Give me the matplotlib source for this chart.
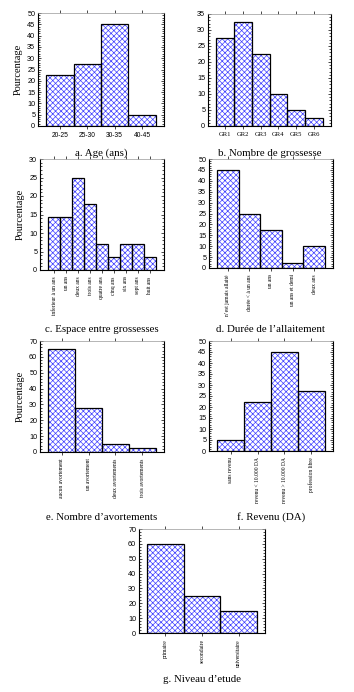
import numpy as np
import matplotlib.pyplot as plt
from matplotlib.ticker import MultipleLocator

# donnees
age_cat = ["20-25", "25-30", "30-35", "40-45"]
age_val = [22.5, 27.5, 45, 5]

gros_cat = ["GR1", "GR2", "GR3", "GR4", "GR5", "GR6"]
gros_val = [27.5, 32.5, 22.5, 10, 5, 2.5]

esp_cat = ["inferieur à un ans", "un ans", "deux ans", "trois ans", "quatre ans",
           "cinq ans", "six ans", "sept ans", "huit ans"]
esp_val = [14.3, 14.3, 25, 17.9, 7.1, 3.6, 7.1, 7.1, 3.6]

allait_cat = ["n’est jamais allaité", "durée < à un ans", "un ans",
              "un ans et demi", "deux ans"]
allait_val = [45, 25, 17.5, 2.5, 10]

avort_cat = ["aucun avortement", "un avortement", "deux avortements", "trois avortements"]
avort_val = [65, 27.5, 5, 2.5]

rev_cat = ["sans revenu", "revenu < 10.000 DA", "revenu > 10.000 DA", "profession libre"]
rev_val = [5, 22.5, 45, 27.5]

etude_cat = ["primaire", "secondaire", "universitaire"]
etude_val = [60, 25, 15]

W, H = 354, 692
fig = plt.figure(figsize=(W / 100, H / 100), dpi=100)
plt.rcParams['hatch.linewidth'] = 0.5

serif = "Liberation Serif"
sans = "Liberation Sans"


def panneau(box, cats, vals, ymax, ystep, titre, ty, rot, ylabel=False):
    x0, y0, x1, y1 = box
    ax = fig.add_axes([x0 / W, 1 - y1 / H, (x1 - x0) / W, (y1 - y0) / H])
    x = np.arange(len(cats))
    ax.bar(x, vals, width=1.0, color="white", edgecolor="#4040ff",
           hatch="xxxxxx", linewidth=0)
    ax.bar(x, vals, width=1.0, fill=False, edgecolor="black", linewidth=0.9)
    ax.set_xlim(-0.5 - 0.075 * len(cats), len(cats) - 0.5 + 0.075 * len(cats))
    ax.set_ylim(0, ymax)
    ax.yaxis.set_major_locator(MultipleLocator(ystep))
    ax.yaxis.set_minor_locator(MultipleLocator(ystep / 5))
    ax.set_xticks(x)
    if rot:
        ax.set_xticklabels(cats, rotation=90, fontsize=4, family=serif)
    else:
        ax.set_xticklabels(cats, fontsize=4.8,
                           family=serif if cats[0].startswith("GR") else sans)
    for lab in ax.get_yticklabels():
        lab.set_fontsize(5.2)
        lab.set_family(sans)
    ax.tick_params(axis="y", which="both", direction="in", right=True,
                   width=0.5, length=2.5, pad=2)
    ax.tick_params(axis="y", which="minor", length=1.5)
    ax.tick_params(axis="x", which="both", top=True, direction="out",
                   width=0.5, length=2.5, pad=2)
    for s in ["left", "bottom", "right"]:
        ax.spines[s].set_linewidth(0.8)
    ax.spines["top"].set_linewidth(0.5)
    ax.spines["top"].set_color("#999999")
    if ylabel:
        ax.set_ylabel("Pourcentage", family=serif, fontsize=7.5, labelpad=3)
    fig.text((x0 + x1) / 2 / W, 1 - ty / H, titre, ha="center", va="center",
             family=serif, fontsize=7.8)
    return ax


panneau((38, 13, 164, 126), age_cat, age_val, 50, 5, "a. Age (ans)", 153, False, True)
panneau((208, 14, 331, 126), gros_cat, gros_val, 35, 5, "b. Nombre de grossesse", 153, False)
panneau((40, 159, 164, 270), esp_cat, esp_val, 30, 5, "c. Espace entre grossesses", 330, True, True)
panneau((209, 159, 333, 268), allait_cat, allait_val, 50, 5, "d. Durée de l’allaitement", 329, True)
panneau((40, 341, 164, 452), avort_cat, avort_val, 70, 10, "e. Nombre d’avortements", 517, True, True)
panneau((209, 341, 333, 451), rev_cat, rev_val, 50, 5, "f. Revenu (DA)", 517, True)
panneau((139, 529, 265, 633), etude_cat, etude_val, 70, 10, "g. Niveau d’etude", 680, True)

fig.savefig("out.png", dpi=100)
